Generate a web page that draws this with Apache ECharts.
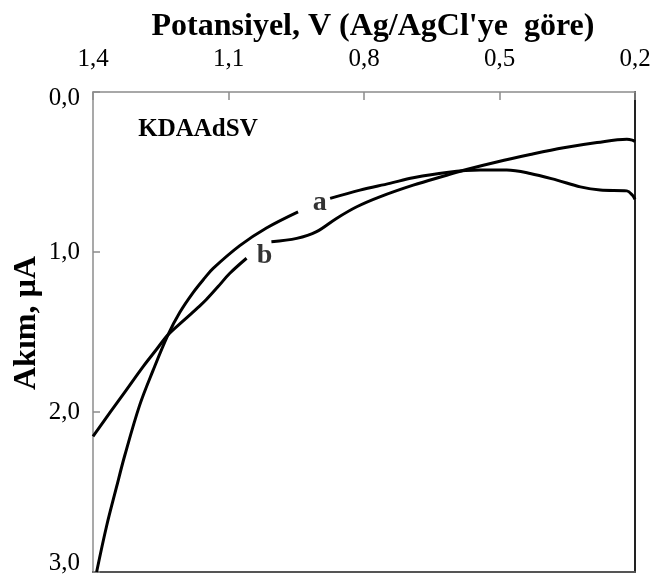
<!DOCTYPE html>
<html><head><meta charset="utf-8">
<script src="https://cdn.jsdelivr.net/npm/echarts@6/dist/echarts.min.js"></script>
<style>html,body{margin:0;padding:0;background:#fff}#c{width:657px;height:588px}</style>
</head><body><div id="c"></div>
<script>
// Potential (V vs Ag/AgCl) and current (µA)
const xTicks = [0.2, 0.5, 0.8, 1.1, 1.4];
const yTicks = [0, 1, 2, 3];

const aV = [1.392, 1.370, 1.348, 1.330, 1.297, 1.267, 1.234, 1.208, 1.178, 1.152, 1.134, 1.075, 1.016, 0.946, 0.91, 0.875, 0.809, 0.743, 0.691, 0.617, 0.543, 0.484, 0.432, 0.373, 0.321, 0.277, 0.218, 0.206, 0.200];
const aI = [3.000, 2.714, 2.470, 2.275, 1.960, 1.740, 1.518, 1.378, 1.252, 1.160, 1.102, 0.960, 0.850, 0.749, null, 0.665, 0.613, 0.571, 0.536, 0.503, 0.488, 0.488, 0.509, 0.551, 0.593, 0.613, 0.618, 0.644, 0.670];

const bV = [1.400, 1.363, 1.326, 1.289, 1.260, 1.234, 1.201, 1.164, 1.149, 1.123, 1.097, 1.060, 1.03, 1.005, 0.949, 0.905, 0.861, 0.816, 0.765, 0.691, 0.617, 0.573, 0.506, 0.432, 0.358, 0.284, 0.218, 0.206, 0.200];
const bI = [2.152, 2.006, 1.861, 1.716, 1.611, 1.518, 1.432, 1.338, 1.297, 1.216, 1.133, 1.039, null, 0.936, 0.915, 0.873, 0.790, 0.717, 0.655, 0.582, 0.520, 0.484, 0.437, 0.391, 0.349, 0.316, 0.295, 0.301, 0.310];

const curveNames = ['a', 'b'];
const labelV = [0.898, 1.020];
const labelI = [0.693, 1.023];

const FONT = '"Liberation Serif", "Times New Roman", serif';
const fmt = v => v.toFixed(1).replace('.', ',');
const yFmt = v => v === yTicks[0] ? '{t|' + fmt(v) + '}' : (v === yTicks[yTicks.length - 1] ? '{b|' + fmt(v) + '}' : fmt(v));
const pairs = (xs, ys) => xs.map((x, i) => [x, ys[i] === null ? '-' : ys[i]]);

const chart = echarts.init(document.getElementById('c'), null, {renderer: 'canvas'});
chart.setOption({
  animation: false,
  backgroundColor: '#fff',
  grid: {left: 93, right: 22, top: 92, bottom: 16},
  xAxis: [{
    type: 'value', position: 'top', inverse: true, min: 0.2, max: 1.4,
    axisLine: {show: true, onZero: false, lineStyle: {color: '#8c8c8c', width: 1.5}},
    axisTick: {show: true, inside: true, length: 8, customValues: xTicks, lineStyle: {color: '#8c8c8c', width: 1.5}},
    axisLabel: {customValues: xTicks, formatter: fmt, margin: 20, color: '#000', fontFamily: FONT, fontSize: 25},
    splitLine: {show: false}
  }, {
    type: 'value', position: 'bottom', inverse: true, min: 0.2, max: 1.4,
    axisLine: {show: true, onZero: false, lineStyle: {color: '#555', width: 2}},
    axisTick: {show: false}, axisLabel: {show: false}, splitLine: {show: false}
  }],
  yAxis: [{
    type: 'value', position: 'left', inverse: true, min: 0, max: 3, interval: 1,
    axisLine: {show: true, onZero: false, lineStyle: {color: '#8c8c8c', width: 1.5}},
    axisTick: {show: true, inside: true, length: 7, lineStyle: {color: '#8c8c8c', width: 1.5}},
    axisLabel: {formatter: yFmt, margin: 13, color: '#000', fontFamily: FONT, fontSize: 25,
      rich: {t: {padding: [12, 0, 0, 0], fontFamily: FONT, fontSize: 25, color: '#000'},
             b: {padding: [0, 0, 17, 0], fontFamily: FONT, fontSize: 25, color: '#000'}}},
    splitLine: {show: false}
  }, {
    type: 'value', position: 'right', inverse: true, min: 0, max: 3,
    axisLine: {show: true, onZero: false, lineStyle: {color: '#222', width: 2}},
    axisTick: {show: false}, axisLabel: {show: false}, splitLine: {show: false}
  }],
  graphic: [
    {type: 'text', x: 373, y: 27, style: {text: "Potansiyel, V (Ag/AgCl'ye  göre)", font: 'bold 32px ' + FONT, fill: '#000', textAlign: 'center', textVerticalAlign: 'middle'}},
    {type: 'text', x: 27, y: 323, rotation: Math.PI / 2, style: {text: 'Akım, µA', font: 'bold 32px ' + FONT, fill: '#000', textAlign: 'center', textVerticalAlign: 'middle'}},
    {type: 'text', x: 198, y: 130, style: {text: 'KDAAdSV', font: 'bold 25px ' + FONT, fill: '#000', textAlign: 'center', textVerticalAlign: 'middle'}}
  ],
  series: [
    {name: 'a', type: 'line', xAxisIndex: 0, yAxisIndex: 0, data: pairs(aV, aI), symbol: 'none', smooth: 0.35, connectNulls: false,
      lineStyle: {color: '#000', width: 3}},
    {name: 'b', type: 'line', xAxisIndex: 0, yAxisIndex: 0, data: pairs(bV, bI), symbol: 'none', smooth: 0.35, connectNulls: false,
      lineStyle: {color: '#000', width: 3}},
    {name: 'labels', type: 'scatter', xAxisIndex: 0, yAxisIndex: 0, symbolSize: 1, itemStyle: {color: 'rgba(0,0,0,0)'},
      data: curveNames.map((n, i) => ({name: n, value: [labelV[i], labelI[i]]})),
      label: {show: true, position: 'inside', formatter: p => p.name, color: '#000', fontFamily: FONT, fontWeight: 'bold', fontSize: 28}}
  ]
});
</script>
</body></html>
